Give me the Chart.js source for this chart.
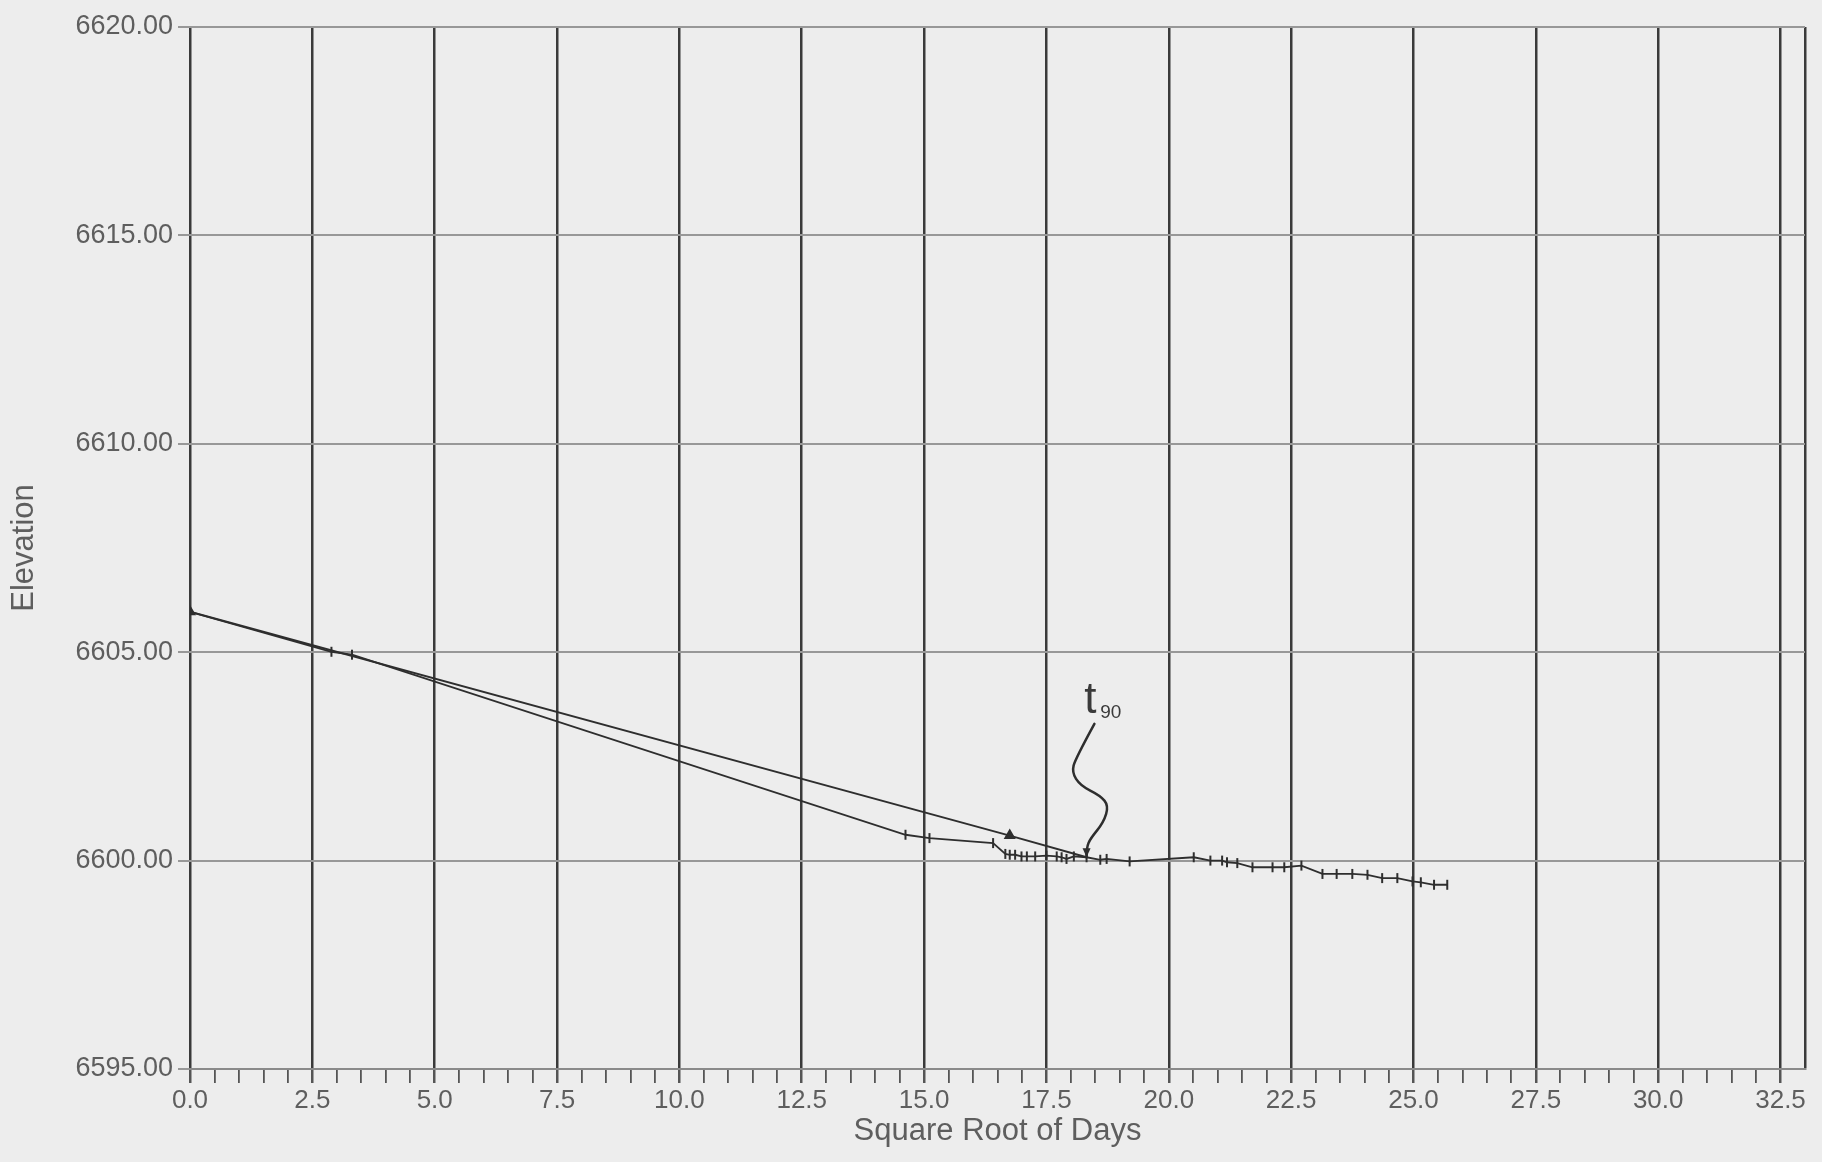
<!DOCTYPE html>
<html>
<head>
<meta charset="utf-8">
<script src="https://cdn.jsdelivr.net/npm/chart.js@4.4.1/dist/chart.umd.min.js"></script>
<style>
  html, body { margin: 0; padding: 0; background: #ededed; }
  #wrap { width: 1822px; height: 1162px; }
</style>
</head>
<body>
<div id="wrap"><canvas id="settleChart" width="1822" height="1162"></canvas></div>
<script>
// measured settlement points (square root of days vs elevation)
const rootDays = [0, 2.89, 3.31, 14.62, 15.11, 16.41, 16.66, 16.75, 16.86, 16.99,
    17.10, 17.27, 17.50, 17.71, 17.81, 17.91, 18.06, 18.32, 18.60, 18.73,
    19.20, 20.51, 20.85, 21.09, 21.19, 21.40, 21.71, 22.12, 22.36, 22.71,
    23.14, 23.43, 23.75, 24.06, 24.36, 24.67, 24.98, 25.15, 25.42, 25.69];
const elevations = [6605.97, 6605.01, 6604.94, 6600.62, 6600.54, 6600.42, 6600.16, 6600.14, 6600.14, 6600.10,
    6600.10, 6600.10, 6600.12, 6600.10, 6600.08, 6600.04, 6600.10, 6600.08, 6600.02, 6600.04,
    6599.98, 6600.08, 6600.00, 6600.00, 6599.96, 6599.94, 6599.84, 6599.84, 6599.84, 6599.88,
    6599.68, 6599.68, 6599.68, 6599.66, 6599.58, 6599.58, 6599.50, 6599.48, 6599.42, 6599.42];

// construction line (1.15 x slope) to t90
const fitRootDays = [0, 16.75, 18.32];
const fitElevations = [6605.97, 6600.60, 6600.08];

// t90 label and its curved pointer, in data units
const t90Text = 't';
const t90Sub = '90';
const t90TextAt = [18.40, 6603.55];
const t90SubAt = [18.60, 6603.41];
const t90PathX = [18.48, 18.09, 18.02, 18.19, 18.60, 18.77, 18.67, 18.40, 18.32, 18.32];
const t90PathY = [6603.28, 6602.44, 6602.12, 6601.80, 6601.56, 6601.32, 6600.92, 6600.53, 6600.32, 6600.08];

const xMin = 0, xMax = 33, xStep = 0.5, xMajor = 2.5;
const yMin = 6595, yMax = 6620, yStep = 5;

const xTitle = 'Square Root of Days';
const yTitle = 'Elevation';

const inkColor = '#2e2e2e';
const textColor = '#5e5e5e';
const fontFamily = '"Liberation Sans", Arial, sans-serif';

function isMajor(v) {
    return Math.abs(v % xMajor) < 1e-9 || v === xMax;
}

// 畫 t90 標註
const annotatePlugin = {
    id: 'annotate',
    afterDatasetsDraw(chart) {
        const ctx = chart.ctx;
        const xs = chart.scales.x, ys = chart.scales.y;
        ctx.save();
        // curved pointer
        const pts = t90PathX.map((v, i) => [xs.getPixelForValue(v), ys.getPixelForValue(t90PathY[i])]);
        ctx.strokeStyle = inkColor;
        ctx.lineWidth = 2.5;
        ctx.lineCap = 'round';
        ctx.beginPath();
        ctx.moveTo(pts[0][0], pts[0][1]);
        for (let i = 1; i < pts.length - 2; i++) {
            const mx = (pts[i][0] + pts[i + 1][0]) / 2;
            const my = (pts[i][1] + pts[i + 1][1]) / 2;
            ctx.quadraticCurveTo(pts[i][0], pts[i][1], mx, my);
        }
        const n = pts.length;
        ctx.quadraticCurveTo(pts[n - 2][0], pts[n - 2][1], pts[n - 1][0], pts[n - 1][1]);
        ctx.stroke();
        // small arrow head
        const ex = pts[n - 1][0], ey = pts[n - 1][1];
        ctx.fillStyle = inkColor;
        ctx.beginPath();
        ctx.moveTo(ex - 4, ey - 9);
        ctx.lineTo(ex + 4, ey - 9);
        ctx.lineTo(ex, ey);
        ctx.closePath();
        ctx.fill();

        // t90 text
        ctx.fillStyle = '#3a3a3a';
        ctx.textBaseline = 'alphabetic';
        ctx.textAlign = 'center';
        ctx.font = '44px ' + fontFamily;
        ctx.fillText(t90Text, xs.getPixelForValue(t90TextAt[0]), ys.getPixelForValue(t90TextAt[1]));
        ctx.textAlign = 'left';
        ctx.font = '19px ' + fontFamily;
        ctx.fillText(t90Sub, xs.getPixelForValue(t90SubAt[0]), ys.getPixelForValue(t90SubAt[1]));
        ctx.restore();
    }
};

const chart = new Chart(document.getElementById('settleChart'), {
    type: 'line',
    data: {
        datasets: [{
            label: 'measured',
            data: rootDays.map((x, i) => ({ x: x, y: elevations[i] })),
            borderColor: inkColor,
            borderWidth: 1.8,
            pointStyle: rootDays.map((x, i) => i === 0 ? false : 'line'),
            rotation: 90,
            pointRadius: 5,
            pointBorderWidth: 2,
            pointBorderColor: inkColor,
            fill: false,
            tension: 0
        }, {
            label: 'construction',
            data: fitRootDays.map((x, i) => ({ x: x, y: fitElevations[i] })),
            borderColor: inkColor,
            borderWidth: 2,
            pointStyle: ['triangle', 'triangle', false],
            pointRadius: 5,
            pointBackgroundColor: inkColor,
            pointBorderColor: inkColor,
            fill: false,
            tension: 0
        }]
    },
    options: {
        responsive: false,
        animation: false,
        devicePixelRatio: 1,
        layout: { padding: { top: 27, right: 17, left: 0, bottom: 0 } },
        plugins: {
            legend: { display: false },
            tooltip: { enabled: false }
        },
        scales: {
            x: {
                type: 'linear',
                min: xMin,
                max: xMax,
                afterFit: s => { s.height = 93; },
                ticks: {
                    stepSize: xStep,
                    autoSkip: false,
                    maxRotation: 0,
                    padding: 2,
                    color: textColor,
                    font: { family: fontFamily, size: 26 },
                    callback: v => (Math.abs(v % xMajor) < 1e-9) ? v.toFixed(1) : ''
                },
                grid: {
                    color: c => isMajor(c.tick.value) ? '#3a3a3a' : 'rgba(0,0,0,0)',
                    lineWidth: c => isMajor(c.tick.value) ? 2.5 : 1.8,
                    tickColor: c => c.tick.value === xMax ? 'rgba(0,0,0,0)' : '#555555',
                    tickLength: 14
                },
                border: { color: '#8a8a8a', width: 2 },
                title: {
                    display: true,
                    text: xTitle,
                    color: textColor,
                    font: { family: fontFamily, size: 31 },
                    padding: { top: 12, bottom: 12 }
                }
            },
            y: {
                type: 'linear',
                min: yMin,
                max: yMax,
                afterFit: s => { s.width = 190; },
                ticks: {
                    stepSize: yStep,
                    padding: 5,
                    color: textColor,
                    font: { family: fontFamily, size: 27 },
                    callback: v => v.toFixed(2)
                },
                grid: {
                    color: '#989898',
                    lineWidth: 2,
                    tickColor: '#989898',
                    tickLength: 12
                },
                border: { display: false },
                title: {
                    display: true,
                    text: yTitle,
                    color: textColor,
                    font: { family: fontFamily, size: 31 },
                    padding: { top: 6, bottom: 0 }
                }
            }
        }
    },
    plugins: [annotatePlugin]
});
</script>
</body>
</html>
